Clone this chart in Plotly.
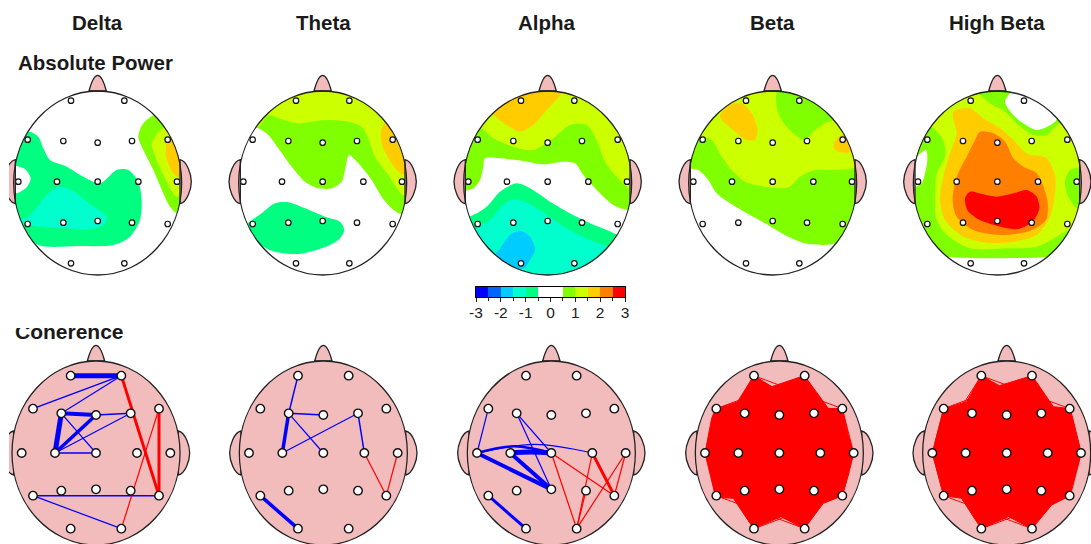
import plotly.graph_objects as go

# ---------- text ----------
BANDS = ["Delta", "Theta", "Alpha", "Beta", "High Beta"]
ROW_TITLES = ["Absolute Power", "Coherence"]

# ---------- colour key ----------
LEVEL_EDGES = [-3, -2.5, -2, -1.5, -1, -0.5, 0.5, 1, 1.5, 2, 2.5, 3]
LEVEL_MIDS = [-2.75, -2.25, -1.75, -1.25, -0.75, 0, 0.75, 1.25, 1.75, 2.25, 2.75]
LEVEL_COLORS = ["#0000FF", "#0066FF", "#00CCFF", "#00FFCC", "#00FF80", "#FFFFFF",
                "#80FF00", "#CCFF00", "#FFCC00", "#FF8000", "#FF0000"]
KEY_TICKS = [-3, -2, -1, 0, 1, 2, 3]

# ---------- electrodes ----------
CHANNELS = ["Fp1", "Fp2", "F7", "F3", "Fz", "F4", "F8", "T3", "C3", "Cz", "C4", "T4",
            "T5", "P3", "Pz", "P4", "T6", "O1", "O2"]
MAP_X = [-80, 80, -210, -103, 0, 103, 210, -238, -122, 0, 122, 238, -210, -103, 0, 103, 210, -80, 80]
MAP_Y = [-247, -247, -130, -126, -121, -126, -130, -4, -4, -4, -4, -4, 123, 119, 114, 119, 123, 241, 241]
NET_X = [-76, 76, -189, -104, 0, 104, 189, -223, -123, 0, 123, 223, -189, -104, 0, 104, 189, -76, 76]
NET_Y = [-232, -232, -133, -119, -114, -119, -133, 0, 0, 0, 0, 0, 128, 113, 109, 113, 128, 227, 227]

# ---------- z-score regions: (level, outline), painted in order ----------
DELTA_REGIONS = [
    (-0.75, [(60,395),(90,395),(115,410),(130,445),(150,480),(200,500),(250,530),(300,550),(350,510),(385,510),
             (415,545),(425,600),(420,660),(390,710),(340,735),(240,738),(115,735),(60,680),(20,600),(20,450)]),
    (0, [(20,495),(50,498),(75,507),(92,535),(80,562),(55,578),(20,580)]),
    (-1.25, [(150,575),(180,560),(215,570),(260,605),(320,650),(315,672),(270,688),(190,685),(120,680),(75,672),
             (60,660),(85,650),(115,615)]),
    (0.75, [(465,345),(430,370),(415,410),(430,450),(460,510),(490,580),(510,620),(530,638),(560,600),(560,400),(500,360)]),
    (1.25, [(490,385),(465,410),(455,430),(470,480),(500,545),(530,590),(547,575),(570,500),(540,400)]),
    (1.75, [(497,420),(498,440),(497,465),(520,520),(545,535),(580,500),(540,420),(510,410)]),
]
THETA_REGIONS = [
    (0.75, [(80,200),(100,205),(130,225),(160,265),(200,320),(240,365),(280,385),(320,385),(350,365),(362,320),
            (372,285),(400,310),(440,360),(470,410),(500,445),(530,462),(570,400),(570,200),(400,85),(200,85)]),
    (1.25, [(80,200),(100,200),(130,165),(170,178),(220,190),(300,180),(370,185),(410,200),(430,235),(450,290),
            (490,345),(535,405),(580,380),(560,200),(400,70),(200,70)]),
    (1.75, [(495,175),(470,205),(470,250),(490,295),(530,342),(580,330),(530,220)]),
    (-0.75, [(60,500),(110,460),(150,430),(190,427),(240,445),(300,470),(345,485),(358,510),(340,540),(290,565),
             (220,582),(150,575),(115,560),(70,520)]),
]
ALPHA_REGIONS = [
    (0.75, [(30,390),(70,385),(90,360),(100,320),(105,295),(150,295),(220,303),(280,313),(340,305),(375,310),
            (400,345),(450,400),(490,435),(535,450),(580,440),(580,200),(400,80),(200,80),(30,200)]),
    (1.25, [(60,200),(95,205),(130,235),(190,260),(250,270),(310,235),(360,195),(410,195),(440,240),(465,305),
            (500,350),(545,390),(580,390),(580,200),(400,80),(200,80)]),
    (1.75, [(120,150),(130,165),(170,195),(210,215),(250,195),(290,150),(335,95),(300,70),(200,70)]),
    (-0.75, [(30,480),(70,465),(110,440),(150,395),(200,370),(240,385),(300,425),(360,460),(420,490),(470,510),
             (510,527),(560,540),(500,660),(100,660),(30,520)]),
    (-1.25, [(60,530),(78,505),(120,480),(165,430),(195,418),(235,430),(290,465),(350,505),(420,540),(475,558),
             (520,570),(400,660),(200,660)]),
    (-1.75, [(145,572),(180,525),(210,512),(240,530),(255,570),(240,600),(222,625),(180,620),(130,590)]),
]
BETA_REGIONS = [
    (0.75, [(20,200),(30,320),(70,330),(100,360),(125,400),(190,445),(270,490),(330,525),(390,550),(470,553),
            (520,530),(580,400),(580,200),(400,70),(200,70)]),
    (1.25, [(40,270),(70,232),(110,240),(140,290),(170,330),(210,365),(270,380),(340,382),(375,350),(420,330),
            (470,330),(535,325),(580,300),(580,200),(500,100),(300,70),(100,100)]),
    (0.75, [(310,80),(305,140),(320,180),(350,215),(390,240),(415,215),(450,190),(490,180),(520,200),(560,150),
            (470,100),(400,70)]),
    (1.75, [(135,165),(165,135),(200,130),(230,160),(248,210),(240,240),(215,240),(180,215),(140,180)]),
    (1.75, [(475,260),(490,230),(510,225),(540,250),(530,275),(490,275)]),
]
HIGH_BETA_REGIONS = [
    (0.75, [(60,90),(590,90),(590,570),(480,590),(300,595),(190,592),(60,570)]),
    (0, [(345,125),(365,95),(400,75),(530,150),(510,165),(490,190),(440,210),(400,190),(370,165)]),
    (0, [(108,270),(112,300),(105,340),(95,370),(70,380),(50,330)]),
    (1.25, [(100,190),(230,80),(270,105),(300,130),(345,155),(385,195),(430,225),(470,225),(510,190),(540,210),
            (590,300),(570,320),(540,330),(525,365),(535,410),(560,445),(590,470),(500,530),(440,560),(350,565),
            (240,565),(165,520),(140,480),(135,420),(140,340),(165,290),(160,240),(130,205)]),
    (1.75, [(190,155),(240,145),(280,175),(330,205),(370,240),(410,280),(470,295),(495,345),(495,400),(480,470),
            (440,525),(370,545),(290,548),(220,530),(165,480),(150,420),(160,350),(180,280),(200,220),(190,180)]),
    (2.25, [(270,215),(310,220),(345,245),(370,295),(400,320),(440,340),(472,420),(468,480),(420,512),(330,525),
            (250,510),(200,470),(188,420),(200,350),(230,290),(255,240)]),
    (2.75, [(240,395),(280,403),(320,410),(370,400),(410,390),(440,410),(448,445),(430,483),(385,507),(320,497),
            (265,478),(232,450),(225,415)]),
]

# ---------- coherence links: (channel, channel, sign, weight, bow) ----------
DELTA_LINKS = [("Fp1","Fp2",-1,5,0),("Fp2","F7",-1,1.5,0),("Fp2","F3",-1,1.2,0),("Fp2","T6",1,3,0),("F3","Fz",-1,4,0),
               ("Fz","F4",-1,1.5,0),("F3","C3",-1,5,0),("Fz","C3",-1,3.5,0),("F3","Cz",-1,1.2,0),("C3","Cz",-1,1.5,0),
               ("F4","C3",-1,1.2,0),("T5","T6",-1,1.5,0),("T5","O2",-1,1.2,0),("F8","T6",1,3,0),("F8","O2",1,1.2,0)]
THETA_LINKS = [("Fp1","F3",-1,1.5,0),("F3","Fz",-1,1.5,0),("F3","C3",-1,3.5,0),("F3","Cz",-1,1.2,0),("F4","C3",-1,1.2,0),
               ("F4","C4",-1,1.5,0),("C4","T6",1,1.2,0),("T4","T6",1,1.2,0),("T5","O1",-1,3.5,0)]
ALPHA_LINKS = [("F7","T3",-1,1.2,0),("F3","Pz",-1,1.2,0),("F3","Cz",-1,1.2,0),("T3","Cz",-1,2.5,-20),("T3","C4",-1,1.2,-26),
               ("C3","Cz",-1,5,-3),("T3","Pz",-1,4,0),("C3","Pz",-1,4,0),("T5","O1",-1,3,0),("Cz","O2",1,1.2,0),
               ("Cz","T6",1,1.2,0),("C4","T6",1,3,0),("C4","O2",1,1.2,0),("P4","O2",1,1.2,0),("T4","O2",1,1.2,0),
               ("T4","T6",1,1.2,0)]
# Beta and High Beta: every pair is linked in red except these
ABSENT_PAIRS = [("Fp1","Fp2"),("Fp1","F7"),("Fp2","F8"),("O1","O2"),("O1","T5"),("O2","T6")]
# Outline of the solid red mass the links form
BETA_MASS = [(-77,-232),(-23,-199),(75,-232),(102,-194),(147,-134),(189,-133),(207,-54),(223,0),(207,66),(189,128),
             (132,151),(75,227),(5,191),(-77,227),(-138,136),(-191,133),(-208,66),(-223,0),(-203,-104),(-191,-133),(-123,-154)]
HIGH_BETA_MASS = [(-76,-232),(-22,-202),(76,-232),(140,-139),(191,-133),(224,0),(191,128),(135,156),(76,227),(5,191),
                  (-76,227),(-135,136),(-189,128),(-223,0),(-189,-133),(-120,-154)]

PINK = "#F2BCBC"
INK = "#222222"
W, H = 1091, 544
RX, RY = 252, 276

# crop: left, top, right, bottom in px, origin of its drawing units, head centre in those units
MAP_PANELS = [
    dict(regions=DELTA_REGIONS, crop=(9, 0, 225, 285), org=(0, 0), c=(293, 549)),
    dict(regions=THETA_REGIONS, crop=(225, 60, 450, 285), org=(225, 60), c=(293, 369)),
    dict(regions=ALPHA_REGIONS, crop=(450, 60, 675, 285), org=(450, 60), c=(293, 369)),
    dict(regions=BETA_REGIONS, crop=(675, 60, 885, 285), org=(675, 60), c=(293, 369)),
    dict(regions=HIGH_BETA_REGIONS, crop=(890, 60, 1091, 285), org=(890, 60), c=(322, 369)),
]
all_pairs = [(a, b, 1, 1, 0) for i, a in enumerate(CHANNELS) for b in CHANNELS[i + 1:]
             if (a, b) not in ABSENT_PAIRS and (b, a) not in ABSENT_PAIRS]
NET_PANELS = [
    dict(links=DELTA_LINKS, crop=(9, 328, 225, 544), org=(0, 320), c=(288, 399)),
    dict(links=THETA_LINKS, crop=(225, 328, 450, 544), org=(225, 335), c=(295, 354)),
    dict(links=ALPHA_LINKS, crop=(450, 328, 675, 544), org=(450, 335), c=(304, 354)),
    dict(links=all_pairs, mass=BETA_MASS, crop=(675, 328, 890, 544), org=(675, 335), c=(313, 354)),
    dict(links=all_pairs, mass=HIGH_BETA_MASS, crop=(890, 328, 1091, 544), org=(890, 335), c=(350, 354)),
]

fig = go.Figure()
layout_axes = {}
shapes = []
axis_count = 0


def add_axes(p):
    global axis_count
    axis_count += 1
    n = axis_count
    L, T, R, B = p["crop"]
    ox, oy = p["org"]
    sx = "" if n == 1 else str(n)
    layout_axes["xaxis" + sx] = dict(domain=[L / W, R / W], range=[(L - ox) * 3, (R - ox) * 3],
                                     visible=False, fixedrange=True, anchor="y" + sx)
    layout_axes["yaxis" + sx] = dict(domain=[1 - B / H, 1 - T / H], range=[(B - oy) * 3, (T - oy) * 3],
                                     visible=False, fixedrange=True, anchor="x" + sx)
    return "x" + sx, "y" + sx


def ellipse_path(cx, cy):
    kx, ky = 0.5523 * RX, 0.5523 * RY
    return (f"M{cx-RX},{cy} C{cx-RX},{cy-ky} {cx-kx},{cy-RY} {cx},{cy-RY} "
            f"C{cx+kx},{cy-RY} {cx+RX},{cy-ky} {cx+RX},{cy} "
            f"C{cx+RX},{cy+ky} {cx+kx},{cy+RY} {cx},{cy+RY} "
            f"C{cx-kx},{cy+RY} {cx-RX},{cy+ky} {cx-RX},{cy} Z")


def add_head_parts(cx, cy, xa, ya, layer, ear_shift):
    common = dict(type="path", xref=xa, yref=ya, layer=layer, fillcolor=PINK,
                  line=dict(color=INK, width=1.3))
    nose = (f"M{cx-26},{cy-276} C{cx-18},{cy-306} {cx-10},{cy-323} {cx},{cy-323} "
            f"C{cx+10},{cy-323} {cx+18},{cy-306} {cx+26},{cy-276} Z")
    shapes.append(dict(path=nose, **common))
    for s in (-1, 1):
        e = cy + ear_shift
        ear = (f"M{cx+s*247},{e-66} C{cx+s*268},{e-62} {cx+s*281},{e-22} {cx+s*281},{e} "
               f"C{cx+s*281},{e+22} {cx+s*268},{e+62} {cx+s*247},{e+66} Z")
        shapes.append(dict(path=ear, **common))


color_of = dict(zip(LEVEL_MIDS, LEVEL_COLORS))

# ---------- upper row: maps ----------
for p in MAP_PANELS:
    xa, ya = add_axes(p)
    cx, cy = p["c"]
    for level, outline in p["regions"]:
        xs = [q[0] for q in outline] + [outline[0][0]]
        ys = [q[1] for q in outline] + [outline[0][1]]
        fig.add_trace(go.Scatter(x=xs, y=ys, mode="lines", fill="toself", fillcolor=color_of[level],
                                 line=dict(width=0, shape="spline", smoothing=0.8), xaxis=xa, yaxis=ya,
                                 showlegend=False, hoverinfo="skip"))
    fig.add_trace(go.Scatter(x=[cx + v for v in MAP_X], y=[cy + v for v in MAP_Y], mode="markers",
                             marker=dict(size=5.5, color="white", line=dict(color="#111111", width=1.2)),
                             xaxis=xa, yaxis=ya, showlegend=False, text=CHANNELS, hoverinfo="text"))
    # white outside the scalp, so the regions stop at the head line
    mask = f"M{cx-320},{cy-345} H{cx+320} V{cy+330} H{cx-320} Z " + ellipse_path(cx, cy)
    shapes.append(dict(type="path", path=mask, xref=xa, yref=ya, layer="above", fillcolor="white",
                       line=dict(width=0), fillrule="evenodd"))
    add_head_parts(cx, cy, xa, ya, "above", -4)
    shapes.append(dict(type="path", path=ellipse_path(cx, cy), xref=xa, yref=ya, layer="above",
                       line=dict(color=INK, width=1.3)))

# ---------- lower row: networks ----------
for j, p in enumerate(NET_PANELS):
    xa, ya = add_axes(p)
    cx, cy = p["c"]
    add_head_parts(cx, cy, xa, ya, "below", 0)
    shapes.append(dict(type="path", path=ellipse_path(cx, cy), xref=xa, yref=ya, layer="below",
                       fillcolor=PINK, line=dict(color=INK, width=1.3)))
    if "mass" in p:
        fig.add_trace(go.Scatter(x=[cx + q[0] for q in p["mass"]] + [cx + p["mass"][0][0]],
                                 y=[cy + q[1] for q in p["mass"]] + [cy + p["mass"][0][1]],
                                 mode="lines", fill="toself", fillcolor="#FF0000", line=dict(color="#FF0000", width=1),
                                 xaxis=xa, yaxis=ya, showlegend=False, hoverinfo="skip"))
    px = {c: cx + v for c, v in zip(CHANNELS, NET_X)}
    py = {c: cy + v for c, v in zip(CHANNELS, NET_Y)}
    for a, b, sign, weight, bow in p["links"]:
        xs, ys = [px[a], px[b]], [py[a], py[b]]
        if bow:
            xs.insert(1, (px[a] + px[b]) / 2)
            ys.insert(1, (py[a] + py[b]) / 2 + bow)
        fig.add_trace(go.Scatter(x=xs, y=ys, mode="lines", xaxis=xa, yaxis=ya, showlegend=False,
                                 hoverinfo="skip",
                                 line=dict(color="#FF0000" if sign > 0 else "#0000FF", width=weight,
                                           shape="spline" if bow else "linear")))
    fig.add_trace(go.Scatter(x=[px[c] for c in CHANNELS], y=[py[c] for c in CHANNELS], mode="markers",
                             marker=dict(size=8.5, color="white", line=dict(color="#111111", width=1.4)),
                             xaxis=xa, yaxis=ya, showlegend=False, text=CHANNELS, hoverinfo="text"))
    if j == 0:
        # lower row title: the top of its letters is cut by the panel edge
        fig.add_trace(go.Scatter(x=[45], y=[41], mode="text", text=[ROW_TITLES[1]], textposition="middle right",
                                 textfont=dict(family="Liberation Sans", size=21, color="#1a1a1a",
                                               weight="bold"),
                                 cliponaxis=True, xaxis=xa, yaxis=ya, showlegend=False, hoverinfo="skip"))

# ---------- colour key ----------
axis_count += 1
kx, ky = f"x{axis_count}", f"y{axis_count}"
n_levels = len(LEVEL_COLORS)
scale = []
for i, c in enumerate(LEVEL_COLORS):
    scale += [[i / n_levels, c], [(i + 1) / n_levels, c]]
fig.add_trace(go.Heatmap(x=LEVEL_EDGES, y=[0, 1], z=[list(range(n_levels))], zmin=-0.5, zmax=n_levels - 0.5,
                         colorscale=scale, showscale=False, xaxis=kx, yaxis=ky, hoverinfo="skip"))
layout_axes[f"xaxis{axis_count}"] = dict(domain=[476 / W, 625 / W], range=[-3, 3], anchor=ky, tickvals=KEY_TICKS,
                                         ticktext=[str(t) for t in KEY_TICKS], ticks="outside", ticklen=4,
                                         tickcolor=INK, showline=True, linecolor="#000000", linewidth=1.3, mirror=True,
                                         showgrid=False, zeroline=False, ticklabelstandoff=-3,
                                         minor=dict(tickvals=[-2.5, -1.5, -0.5, 0.5, 1.5, 2.5], ticks="outside",
                                                    ticklen=3, tickcolor=INK, showgrid=False),
                                         tickfont=dict(family="Liberation Sans", size=15.5, color="#222222"),
                                         fixedrange=True)
layout_axes[f"yaxis{axis_count}"] = dict(domain=[1 - 297 / H, 1 - 287 / H], range=[0, 1], anchor=kx, showticklabels=False,
                                         ticks="", showline=True, linecolor="#000000", linewidth=1.3, mirror=True,
                                         showgrid=False, zeroline=False, fixedrange=True)

# ---------- titles ----------
annotations = []
for name, x_px in zip(BANDS, [97, 323, 547, 772, 997]):
    annotations.append(dict(text=f"<b>{name}</b>", x=x_px / W, y=1 - 23 / H, xref="paper", yref="paper",
                            xanchor="center", yanchor="middle", showarrow=False,
                            font=dict(family="Liberation Sans", size=20.5, color="#1a1a1a")))
annotations.append(dict(text=f"<b>{ROW_TITLES[0]}</b>", x=15.5 / W, y=1 - 62 / H, xref="paper", yref="paper",
                        xanchor="left", yanchor="middle", showarrow=False,
                        font=dict(family="Liberation Sans", size=20.5, color="#1a1a1a")))

fig.update_layout(width=W, height=H, margin=dict(l=0, r=0, t=0, b=0, pad=0, autoexpand=False), paper_bgcolor="white",
                  plot_bgcolor="rgba(0,0,0,0)", showlegend=False, shapes=shapes, annotations=annotations, **layout_axes)
fig.write_html("out.html", config={"displayModeBar": False},
               post_script="document.body.style.margin='0';document.body.style.overflow='hidden';")
